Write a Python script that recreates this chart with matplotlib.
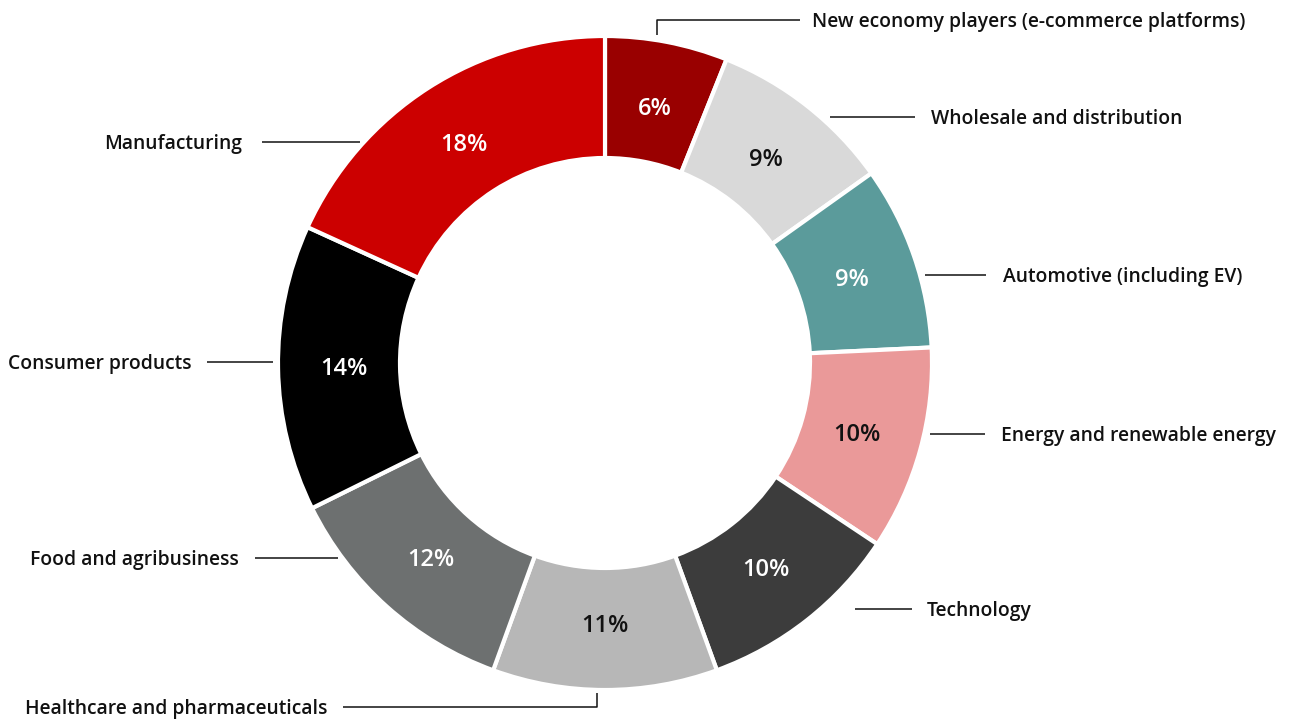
import matplotlib.pyplot as plt
import numpy as np

sectors = [
    "New economy players (e-commerce platforms)",
    "Wholesale and distribution",
    "Automotive (including EV)",
    "Energy and renewable energy",
    "Technology",
    "Healthcare and pharmaceuticals",
    "Food and agribusiness",
    "Consumer products",
    "Manufacturing",
]
shares = [6, 9, 9, 10, 10, 11, 12, 14, 18]
colors = ["#990000", "#d9d9d9", "#5b9b9b", "#ea9999", "#3c3c3c",
          "#b7b7b7", "#6d7070", "#000000", "#cc0000"]
pct_colors = ["white", "#111111", "white", "#111111", "white",
              "#111111", "white", "white", "white"]

plt.rcParams["font.family"] = ["Open Sans", "DejaVu Sans"]

W, H = 1295, 720
fig = plt.figure(figsize=(W / 100, H / 100), dpi=100)
ax = fig.add_axes([0, 0, 1, 1])

cx, cy = 605, H - 363
R_out, R_in = 327, 205

wedges, _ = ax.pie(
    shares, colors=colors, startangle=90, counterclock=False,
    center=(cx, cy), radius=R_out,
    wedgeprops=dict(width=R_out - R_in, edgecolor="white", linewidth=3),
)
ax.set_xlim(0, W)
ax.set_ylim(0, H)
ax.set_aspect("equal")
ax.axis("off")

# percentage labels at the middle of each ring segment
r_mid = 261
for w, v, tc in zip(wedges, shares, pct_colors):
    ang = np.deg2rad((w.theta1 + w.theta2) / 2)
    ax.text(cx + r_mid * np.cos(ang), cy + r_mid * np.sin(ang) - 2, f"{v}%",
            ha="center", va="center", fontsize=17, fontweight="semibold",
            color=tc)

# outside labels with leader lines (pixel coordinates, y from top)
layout = [
    (812, 20, "left", [(657, 35), (657, 20), (800, 20)]),
    (931, 117, "left", [(830, 117), (915, 117)]),
    (1003, 275, "left", [(925, 275), (986, 275)]),
    (1001, 434, "left", [(930, 434), (985, 434)]),
    (927, 609, "left", [(855, 609), (912, 609)]),
    (327, 707, "right", [(343, 707), (597, 707), (597, 693)]),
    (239, 558, "right", [(255, 558), (338, 558)]),
    (192, 362, "right", [(207, 362), (273, 362)]),
    (242, 142, "right", [(262, 142), (360, 142)]),
]
for name, (tx, ty, ha, pts) in zip(sectors, layout):
    xs = [p[0] for p in pts]
    ys = [H - p[1] for p in pts]
    ax.plot(xs, ys, color="#111111", lw=1.1, solid_capstyle="butt")
    ax.text(tx, H - ty + 0.5, name, ha=ha, va="center_baseline", fontsize=13.9,
            fontweight="semibold", color="#111111")

fig.savefig("out.png", dpi=100)
